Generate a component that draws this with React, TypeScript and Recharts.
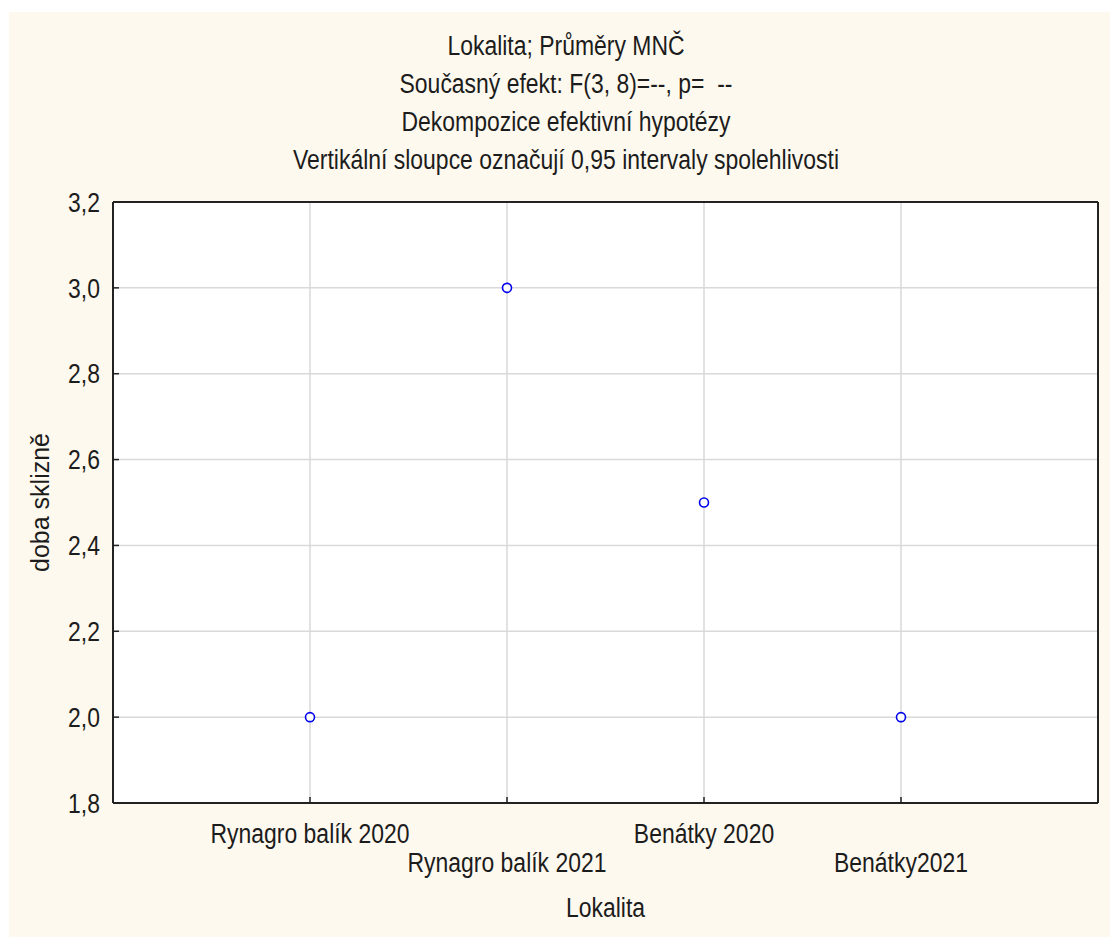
import { CartesianGrid, Label, Scatter, ScatterChart, XAxis, YAxis } from "recharts";

const titleLines = [
  "Lokalita; Průměry MNČ",
  "Současný efekt: F(3, 8)=--, p=  --",
  "Dekompozice efektivní hypotézy",
  "Vertikální sloupce označují 0,95 intervaly spolehlivosti",
];
const categories = ["Rynagro balík 2020", "Rynagro balík 2021", "Benátky 2020", "Benátky2021"];
const positions = [1, 2, 3, 4];
const means = [2.0, 3.0, 2.5, 2.0];
const yTicks = [1.8, 2.0, 2.2, 2.4, 2.6, 2.8, 3.0, 3.2];
const yTitle = "doba sklizně";
const xTitle = "Lokalita";

const points = positions.map((x, i) => ({ x, y: means[i], name: categories[i] }));

// no narrow font installed, so squeeze Liberation Sans horizontally
const FONT = "'Liberation Sans Narrow', 'Arial Narrow', 'Liberation Sans', sans-serif";
const SQUEEZE = 0.85;
const INK = "#1c1c1c";
const FRAME = "#222";
const W = 1101;
const H = 925;

const Narrow = ({ x, y, anchor, dy, children }: any) => (
  <g transform={`translate(${x},${y}) scale(${SQUEEZE},1)`}>
    <text x={0} y={0} dy={dy} textAnchor={anchor} fill={INK} fontSize={27} fontFamily={FONT}>
      {children}
    </text>
  </g>
);

const XTick = ({ x, y, payload }: any) => {
  const i = positions.indexOf(payload.value);
  return (
    <Narrow x={x} y={y + (i % 2 ? 69 : 40)} anchor="middle">
      {categories[i]}
    </Narrow>
  );
};

const YTick = ({ x, y, payload }: any) => (
  <Narrow x={x} y={y} anchor="end" dy="0.36em">
    {payload.value.toFixed(1).replace(".", ",")}
  </Narrow>
);

const Marker = ({ cx, cy }: any) => (
  <circle cx={cx} cy={cy} r={4.5} fill="#fff" stroke="#0000ee" strokeWidth={1.6} />
);

export default function App() {
  return (
    <div style={{ position: "absolute", left: 9, top: 12, width: W, height: H, background: "#fef9ee" }}>
      {titleLines.map((t, i) => (
        <div
          key={i}
          style={{
            position: "absolute",
            left: 0,
            width: 1114,
            top: 21 + i * 38,
            textAlign: "center",
            fontFamily: FONT,
            fontSize: 27,
            lineHeight: "27px",
            color: INK,
            whiteSpace: "pre",
            transform: `scaleX(${SQUEEZE})`,
          }}
        >
          {t}
        </div>
      ))}
      <ScatterChart
        width={W}
        height={H}
        margin={{ top: 189, right: 11, bottom: 9, left: 0 }}
        style={{ position: "absolute", left: 0, top: 0 }}
      >
        <CartesianGrid stroke="#d9d9d9" strokeWidth={1.5} fill="#fff" />
        <XAxis
          type="number"
          dataKey="x"
          domain={[0, 5]}
          ticks={positions}
          height={125}
          tick={<XTick />}
          tickSize={-6}
          tickMargin={6}
          interval={0}
          axisLine={{ stroke: FRAME, strokeWidth: 2 }}
          tickLine={{ stroke: FRAME, strokeWidth: 1.5 }}
        >
          <Label
            content={({ viewBox }: any) => (
              <Narrow x={viewBox.x + viewBox.width / 2} y={viewBox.y + 114} anchor="middle">
                {xTitle}
              </Narrow>
            )}
          />
        </XAxis>
        <XAxis
          xAxisId="top"
          orientation="top"
          type="number"
          dataKey="x"
          domain={[0, 5]}
          ticks={positions}
          height={1}
          tick={false}
          tickSize={-6}
          axisLine={{ stroke: FRAME, strokeWidth: 2 }}
          tickLine={{ stroke: FRAME, strokeWidth: 1.5 }}
        />
        <YAxis
          type="number"
          dataKey="y"
          domain={[1.8, 3.2]}
          ticks={yTicks}
          width={104}
          tickSize={-6}
          tickMargin={19}
          interval={0}
          tick={<YTick />}
          axisLine={{ stroke: FRAME, strokeWidth: 2 }}
          tickLine={{ stroke: FRAME, strokeWidth: 1.5 }}
        >
          <Label
            content={({ viewBox }: any) => {
              const cx = 31;
              const cy = viewBox.y + viewBox.height / 2;
              return (
                <text
                  x={cx}
                  y={cy}
                  transform={`rotate(-90 ${cx} ${cy})`}
                  textAnchor="middle"
                  dominantBaseline="central"
                  fill={INK}
                  fontSize={25}
                  fontFamily={FONT}
                >
                  {yTitle}
                </text>
              );
            }}
          />
        </YAxis>
        <YAxis
          yAxisId="right"
          orientation="right"
          type="number"
          dataKey="y"
          domain={[1.8, 3.2]}
          ticks={yTicks}
          width={1}
          tick={false}
          tickSize={-6}
          axisLine={{ stroke: FRAME, strokeWidth: 2 }}
          tickLine={{ stroke: FRAME, strokeWidth: 1.5 }}
        />
        <Scatter data={points} shape={<Marker />} isAnimationActive={false} />
        <Scatter xAxisId="top" yAxisId="right" data={points} shape={() => <g />} isAnimationActive={false} />
      </ScatterChart>
    </div>
  );
}
